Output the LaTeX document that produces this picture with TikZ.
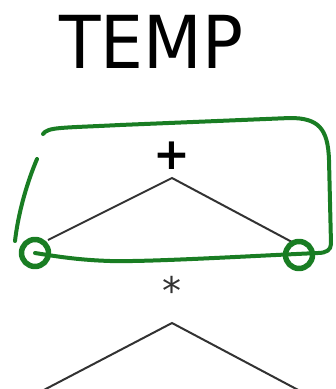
\documentclass[tikz,border=0pt]{standalone}
\usepackage{fontspec}
\setmainfont{DejaVu Sans}
\usepackage{tikz}
\definecolor{penGreen}{RGB}{25,125,35}
\definecolor{edgeGray}{RGB}{50,50,50}
\tikzset{
    edge/.style={draw=edgeGray, line width=2pt},
    pen/.style={draw=penGreen, line width=4pt, line cap=round, line join=round},
    ring/.style={pen, line width=5.5pt, circle, inner sep=0pt, minimum size=27pt}
}

\begin{document}
\begin{tikzpicture}[x=1pt, y=-1pt]
    \useasboundingbox (0, 0) rectangle (336, 389);

    % Title
    \node[xscale=0.93, inner sep=0pt] (temp) at (151, 42) {\fontsize{73}{73}\selectfont TEMP};

    % Upper tree
    \node[inner sep=0pt] (plus) at (172, 156) {\fontsize{44}{44}\selectfont\bfseries +};
    \coordinate (top1) at (172, 178);
    \coordinate (left1) at (48, 240);
    \coordinate (right1) at (292, 242);
    \draw[edge] (left1) -- (top1) -- (right1);

    % Lower tree
    \node[inner sep=0pt, text=edgeGray] (star) at (172, 290) {\fontsize{38}{38}\selectfont *};
    \coordinate (top2) at (172, 323);
    \coordinate (left2) at (40, 392);
    \coordinate (right2) at (302, 392);
    \draw[edge] (left2) -- (top2) -- (right2);

    % Marker
    \node[ring] (ringL) at (35, 253) {};
    \node[ring] (ringR) at (299, 255) {};
    \draw[pen] (43, 134) .. controls (48, 127) and (60, 128) .. (120, 125)
        -- (290, 118) .. controls (318, 118) and (328, 128) .. (329, 160)
        -- (331, 244) .. controls (331, 250) and (326, 253) .. (318, 253)
        .. controls (250, 256) and (150, 262) .. (110, 261)
        .. controls (80, 260) and (60, 257) .. (ringL.center);
    \draw[pen] (37, 159) .. controls (26, 185) and (18, 215) .. (15, 241);
\end{tikzpicture}
\end{document}
